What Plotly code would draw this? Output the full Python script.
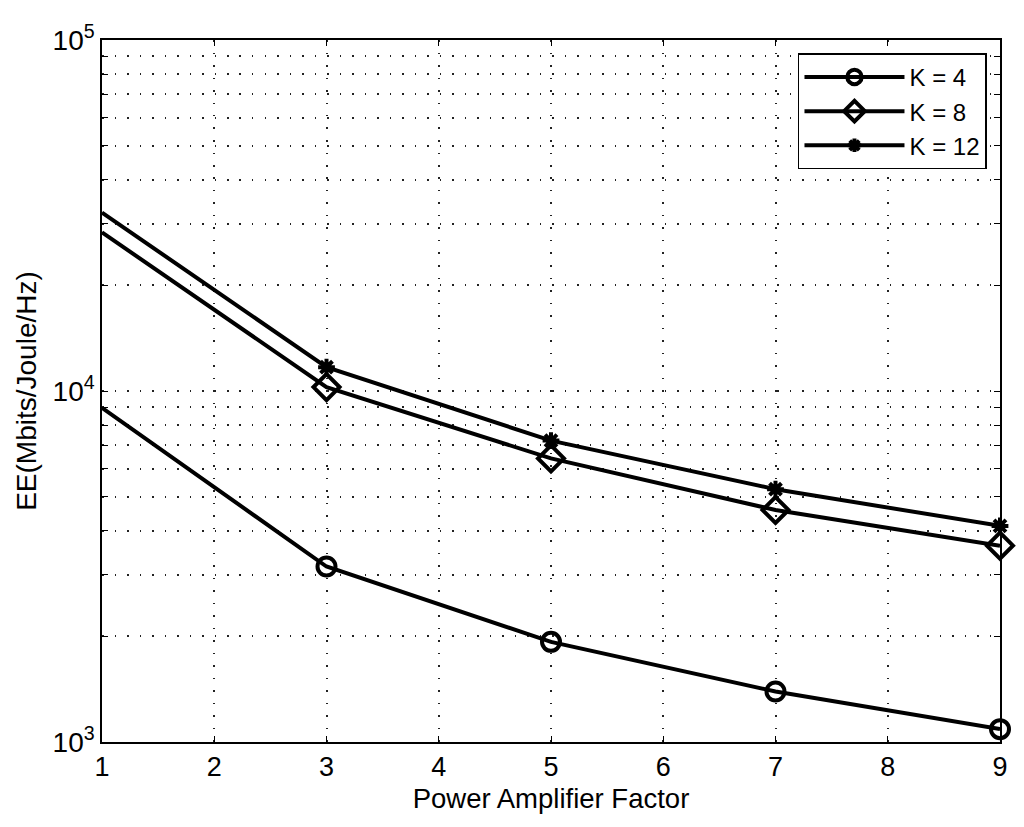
import plotly.graph_objects as go

x_vals = [1, 3, 5, 7, 9]
k4 = [8954, 3162, 1929, 1393, 1088]
k8 = [28310, 10260, 6427, 4581, 3625]
k12 = [32230, 11690, 7222, 5250, 4128]
series_names = ["K = 4", "K = 8", "K = 12"]
x_ticks = [1, 2, 3, 4, 5, 6, 7, 8, 9]
y_major = [1e3, 1e4, 1e5]
y_major_text = ["10<sup>3</sup>", "10<sup>4</sup>", "10<sup>5</sup>"]

font_family = "Liberation Sans, Arial, sans-serif"

fig = go.Figure()
symbols = ["circle-open", "diamond-open", "asterisk-open"]
msizes = [18, 20, 14]
for name, ys, sym, ms in zip(series_names, [k4, k8, k12], symbols, msizes):
    sizes = [0] + [ms] * (len(x_vals) - 1)
    fig.add_trace(go.Scatter(
        x=x_vals, y=ys, name=name, mode="lines+markers",
        line=dict(color="black", width=4),
        marker=dict(symbol=sym, size=sizes, color="black", opacity=1,
                    line=dict(color="black", width=4)),
        cliponaxis=False,
    ))

# log-axis tick positions for grid: 1..9 per decade
y_grid = []
y_grid_text = []
for d in [1e3, 1e4]:
    for m in range(1, 10):
        y_grid.append(m * d)
        y_grid_text.append(y_major_text[y_major.index(d)] if m == 1 else "")
y_grid.append(1e5)
y_grid_text.append(y_major_text[2])

fig.update_layout(
    width=1016, height=819,
    paper_bgcolor="white", plot_bgcolor="white",
    margin=dict(l=94, r=24, t=26, b=85),
    font=dict(family=font_family, size=27, color="black"),
    showlegend=True,
    legend=dict(
        x=0.9855, y=0.981, xanchor="right", yanchor="top",
        bordercolor="black", borderwidth=1.5, bgcolor="white",
        font=dict(size=24), tracegroupgap=0, itemwidth=100,
    ),
    xaxis=dict(
        range=[1, 9], tickvals=x_ticks, ticktext=[str(v) for v in x_ticks],
        showline=True, linecolor="black", linewidth=1.5, mirror="allticks",
        ticks="inside", ticklen=6, tickcolor="black", tickwidth=1.2,
        showgrid=True, gridcolor="#222", griddash="1.5px,11px", gridwidth=1.5,
        zeroline=False,
        title=dict(text="Power Amplifier Factor", standoff=8, font=dict(size=27.5)),
        tickfont=dict(size=27),
    ),
    yaxis=dict(
        type="log", range=[3, 5], tickvals=y_grid, ticktext=y_grid_text,
        showline=True, linecolor="black", linewidth=1.5, mirror="allticks",
        ticks="inside", ticklen=6, tickcolor="black", tickwidth=1.2,
        showgrid=True, gridcolor="#222", griddash="1.5px,11px", gridwidth=1.5,
        zeroline=False,
        title=dict(text="EE(Mbits/Joule/Hz)", standoff=8, font=dict(size=28)),
        tickfont=dict(size=28),
    ),
)

fig.write_html("out.html")
